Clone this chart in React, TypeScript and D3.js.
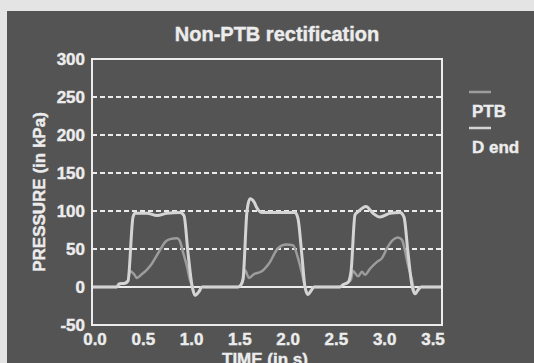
import React from 'react';
import * as d3 from 'd3';

// time (s) and pressure (kPa)
const dEndTime = [0, 0.25, 0.27, 0.33, 0.36, 0.41, 0.43, 0.55, 0.65, 0.75, 0.88, 0.92, 0.96, 1.0, 1.03, 1.07, 1.1,
  1.46, 1.49, 1.51, 1.55, 1.58, 1.62, 1.65, 1.7, 2.03, 2.06, 2.1, 2.13, 2.16, 2.19, 2.22,
  2.48, 2.51, 2.56, 2.59, 2.63, 2.66, 2.74, 2.81, 2.88, 2.98, 3.08, 3.12, 3.16, 3.2, 3.23, 3.26, 3.29, 3.5];
const dEndValue = [0, 0, 4, 5, 8, 92, 97, 97, 94, 97, 98, 94, 45, 2, -11, -6, 0,
  0, 3, 10, 100, 116, 112, 104, 98, 98, 90, 40, 0, -10, -5, 0,
  0, 3, 6, 20, 95, 99, 106, 97, 92, 97, 98, 92, 45, 2, -9, -4, 0, 0];

const ptbTime = [0, 0.25, 0.27, 0.33, 0.36, 0.38, 0.42, 0.45, 0.5, 0.55, 0.6, 0.65, 0.7, 0.73, 0.78, 0.85, 0.88, 0.91, 0.95, 0.98, 1.0, 1.03, 1.07, 1.1,
  1.46, 1.49, 1.51, 1.53, 1.57, 1.62, 1.69, 1.77, 1.86, 1.94, 2.01, 2.06, 2.11, 2.13, 2.16, 2.19, 2.22,
  2.48, 2.51, 2.56, 2.59, 2.61, 2.66, 2.7, 2.73, 2.78, 2.85, 2.9, 2.95, 3.01, 3.06, 3.1, 3.13, 3.16, 3.2, 3.23, 3.26, 3.29, 3.5];
const ptbValue = [0, 0, 4, 5, 8, 21, 17, 12, 17, 23, 31, 42, 53, 59, 63, 64, 60, 46, 27, 9, 2, -11, -6, 0,
  0, 3, 10, 22, 12, 17, 20, 31, 51, 56, 55, 38, 12, 0, -10, -5, 0,
  0, 3, 6, 10, 21, 14, 20, 16, 24, 33, 38, 51, 62, 65, 62, 48, 29, 9, -9, -4, 0, 0];

const yTicks = [-50, 0, 50, 100, 150, 200, 250, 300];
const gridTicks = [50, 100, 150, 200, 250];
const xTicks = ['0.0', '0.5', '1.0', '1.5', '2.0', '2.5', '3.0', '3.5'];

const series = [
  { name: 'PTB', time: ptbTime, value: ptbValue, color: '#9c9c9c', width: 2.5 },
  { name: 'D end', time: dEndTime, value: dEndValue, color: '#d4d4d4', width: 3 },
];

const App = () => {
  const width = 534;
  const height = 363;
  const left = 92, right = 442, top = 59, bottom = 325;

  const x = d3.scaleLinear().domain([0, 3.5]).range([left, right]);
  const y = d3.scaleLinear().domain([-50, 300]).range([bottom, top]);
  // tick labels in the original sit a little inside the frame
  const xLabel = d3.scalePoint().domain(xTicks).range([95, 433]);

  const line = (t: number[], v: number[]) =>
    d3.line<number>()
      .x((d, i) => x(t[i]))
      .y((d) => y(d))
      .curve(d3.curveMonotoneX)(v) || '';

  const font = '"Liberation Sans", Arial, sans-serif';
  const ink = '#ececec';
  // slight halo makes the type look as heavy as the photographed original
  const heavy = { stroke: ink, strokeWidth: 0.4, paintOrder: 'stroke' } as const;

  return (
    <svg width={width} height={height} style={{ position: 'absolute', left: 0, top: 0 }} fontFamily={font}>
      <rect x={0} y={0} width={width} height={height} fill="#e4e4e4" />
      <rect x={7} y={11} width={width - 7} height={height - 11} fill="#545454" />

      <text x={277} y={41} textAnchor="middle" fontSize={20} fontWeight="bold" fill={ink} {...heavy}>Non-PTB rectification</text>

      {gridTicks.map(v => (
        <line key={v} x1={left} x2={right} y1={y(v)} y2={y(v)} stroke={ink} strokeWidth={2} strokeDasharray="5,3" />
      ))}
      <line x1={left} x2={right} y1={y(0)} y2={y(0)} stroke={ink} strokeWidth={2} />

      {series.map(s => (
        <path key={s.name} d={line(s.time, s.value)} fill="none" stroke={s.color} strokeWidth={s.width} strokeLinejoin="round" />
      ))}

      <rect x={left} y={top} width={right - left} height={bottom - top} fill="none" stroke={ink} strokeWidth={2} />

      {yTicks.map(v => (
        <text key={v} x={85} y={y(v)} dy="0.36em" textAnchor="end" fontSize={17} fontWeight="bold" fill={ink} {...heavy}>{v}</text>
      ))}
      {xTicks.map(l => (
        <text key={l} x={xLabel(l)} y={345} textAnchor="middle" fontSize={17} fontWeight="bold" fill={ink} {...heavy}>{l}</text>
      ))}

      <text x={265} y={365} textAnchor="middle" fontSize={17} fontWeight="bold" fill={ink} {...heavy}>TIME (in s)</text>
      <text transform="translate(45,192) rotate(-90)" textAnchor="middle" fontSize={17} fontWeight="bold" fill={ink} {...heavy}>PRESSURE (in kPa)</text>

      {series.map((s, i) => (
        <g key={s.name} transform={`translate(469,${92 + i * 36})`}>
          <line x1={0} x2={22} y1={0} y2={0} stroke={s.color} strokeWidth={2.5} />
          <text x={3} y={25} fontSize={17} fontWeight="bold" fill={ink} {...heavy}>{s.name}</text>
        </g>
      ))}
    </svg>
  );
};

export default App;
